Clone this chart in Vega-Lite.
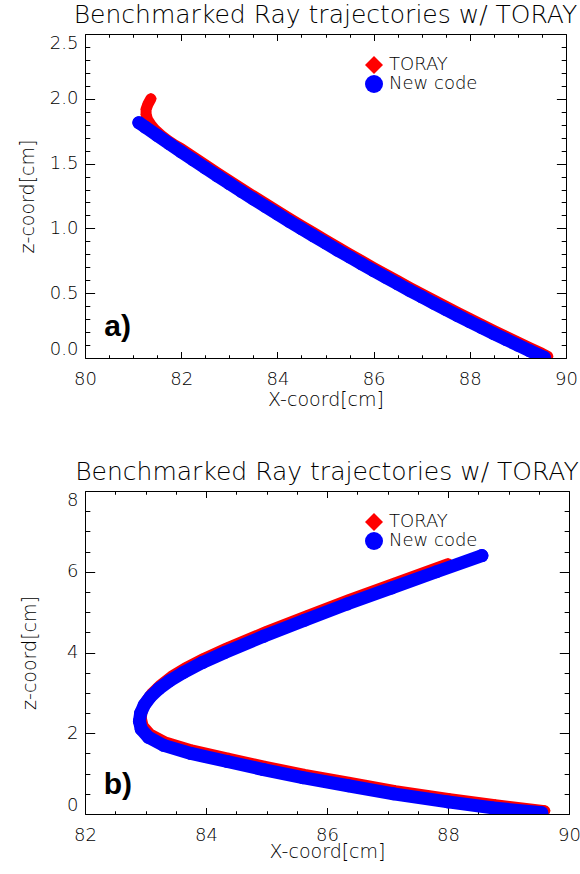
{
  "$schema": "https://vega.github.io/schema/vega-lite/v6.json",
  "background": "white",
  "padding": {"left": 18, "top": 2, "right": 0, "bottom": 0},
  "spacing": 50,
  "config": {
    "view": {"stroke": null},
    "font": "DejaVu Sans",
    "axis": {
      "labelFont": "DejaVu Sans", "labelFontWeight": 200, "labelFontSize": 18, "labelColor": "black",
      "titleFont": "DejaVu Sans", "titleFontWeight": 200, "titleFontSize": 19, "titleColor": "black",
      "domainColor": "black", "domainWidth": 1, "ticks": false, "grid": false,
      "tickColor": "black", "tickWidth": 1, "tickOpacity": 1, "labelOverlap": false
    },
    "title": {"font": "DejaVu Sans", "fontWeight": 200, "fontSize": 25, "color": "black", "anchor": "middle", "frame": "group", "baseline": "alphabetic", "offset": 6},
    "legend": {
      "orient": "none", "legendX": 280, "legendY": 22, "padding": 0, "title": null,
      "labelFont": "DejaVu Sans", "labelFontWeight": 200, "labelFontSize": 18, "labelOffset": 6,
      "rowPadding": 1, "symbolSize": 324, "symbolStrokeWidth": 0
    }
  },
  "resolve": {"scale": {"color": "independent", "shape": "independent"}},
  "vconcat": [
    {
      "width": 481, "height": 324,
      "title": {"text": "Benchmarked Ray trajectories w/ TORAY"},
      "data": {"values": [
        {"s":"TORAY","x":81.37,"z":2.0},{"s":"TORAY","x":81.31,"z":1.96},{"s":"TORAY","x":81.27,"z":1.92},{"s":"TORAY","x":81.27,"z":1.88},{"s":"TORAY","x":81.3,"z":1.84},{"s":"TORAY","x":81.37,"z":1.8},{"s":"TORAY","x":81.46,"z":1.76},{"s":"TORAY","x":81.58,"z":1.72},{"s":"TORAY","x":81.72,"z":1.68},{"s":"TORAY","x":81.86,"z":1.645},
        {"s":"TORAY","x":82.0,"z":1.616},{"s":"TORAY","x":82.25,"z":1.554},{"s":"TORAY","x":82.5,"z":1.492},{"s":"TORAY","x":82.75,"z":1.431},{"s":"TORAY","x":83.0,"z":1.371},{"s":"TORAY","x":83.25,"z":1.311},{"s":"TORAY","x":83.5,"z":1.252},{"s":"TORAY","x":83.75,"z":1.194},{"s":"TORAY","x":84.0,"z":1.137},{"s":"TORAY","x":84.25,"z":1.079},
        {"s":"TORAY","x":84.5,"z":1.023},{"s":"TORAY","x":84.75,"z":0.968},{"s":"TORAY","x":85.0,"z":0.913},{"s":"TORAY","x":85.25,"z":0.858},{"s":"TORAY","x":85.5,"z":0.805},{"s":"TORAY","x":85.75,"z":0.752},{"s":"TORAY","x":86.0,"z":0.699},{"s":"TORAY","x":86.25,"z":0.648},{"s":"TORAY","x":86.5,"z":0.597},{"s":"TORAY","x":86.75,"z":0.546},
        {"s":"TORAY","x":87.0,"z":0.497},{"s":"TORAY","x":87.25,"z":0.448},{"s":"TORAY","x":87.5,"z":0.4},{"s":"TORAY","x":87.75,"z":0.352},{"s":"TORAY","x":88.0,"z":0.305},{"s":"TORAY","x":88.25,"z":0.259},{"s":"TORAY","x":88.5,"z":0.213},{"s":"TORAY","x":88.75,"z":0.168},{"s":"TORAY","x":89.0,"z":0.124},{"s":"TORAY","x":89.25,"z":0.08},{"s":"TORAY","x":89.5,"z":0.036},{"s":"TORAY","x":89.62,"z":0.012},
        {"s":"New code","x":81.12,"z":1.816},{"s":"New code","x":81.25,"z":1.782},{"s":"New code","x":81.5,"z":1.718},{"s":"New code","x":81.75,"z":1.654},{"s":"New code","x":82.0,"z":1.591},{"s":"New code","x":82.25,"z":1.529},{"s":"New code","x":82.5,"z":1.467},{"s":"New code","x":82.75,"z":1.406},{"s":"New code","x":83.0,"z":1.346},{"s":"New code","x":83.25,"z":1.286},
        {"s":"New code","x":83.5,"z":1.227},{"s":"New code","x":83.75,"z":1.169},{"s":"New code","x":84.0,"z":1.112},{"s":"New code","x":84.25,"z":1.054},{"s":"New code","x":84.5,"z":0.998},{"s":"New code","x":84.75,"z":0.943},{"s":"New code","x":85.0,"z":0.888},{"s":"New code","x":85.25,"z":0.833},{"s":"New code","x":85.5,"z":0.78},{"s":"New code","x":85.75,"z":0.727},
        {"s":"New code","x":86.0,"z":0.674},{"s":"New code","x":86.25,"z":0.623},{"s":"New code","x":86.5,"z":0.572},{"s":"New code","x":86.75,"z":0.521},{"s":"New code","x":87.0,"z":0.472},{"s":"New code","x":87.25,"z":0.423},{"s":"New code","x":87.5,"z":0.375},{"s":"New code","x":87.75,"z":0.327},{"s":"New code","x":88.0,"z":0.28},{"s":"New code","x":88.25,"z":0.234},
        {"s":"New code","x":88.5,"z":0.188},{"s":"New code","x":88.75,"z":0.143},{"s":"New code","x":89.0,"z":0.099},{"s":"New code","x":89.25,"z":0.055},{"s":"New code","x":89.55,"z":0.004}
      ]},
      "layer": [
        {
          "transform": [{"filter": "datum.s === 'TORAY'"}],
          "mark": {"type": "line", "color": "#ff0000", "strokeWidth": 11, "strokeCap": "round", "strokeJoin": "round", "clip": true},
          "encoding": {
            "x": {"field": "x", "type": "quantitative", "scale": {"domain": [80, 90], "nice": false, "zero": false},
              "axis": {"orient": "bottom", "values": [80, 82, 84, 86, 88, 90], "format": "d", "title": "X-coord[cm]", "labelPadding": 12, "labelFlush": false,
                "titleY": 47, "titleBaseline": "alphabetic"}},
            "y": {"field": "z", "type": "quantitative", "scale": {"domain": [0, 2.5], "nice": false, "zero": false},
              "axis": {"orient": "left", "values": [0, 0.5, 1, 1.5, 2, 2.5], "format": ".1f", "title": "z-coord[cm]", "labelPadding": 7, "labelFlush": true,
                "titleX": -52, "titleBaseline": "alphabetic"}},
            "order": {"value": null}
          }
        },
        {
          "transform": [{"filter": "datum.s === 'TORAY'"}],
          "mark": {"type": "point", "filled": true, "size": 130, "opacity": 1, "clip": true},
          "encoding": {
            "x": {"field": "x", "type": "quantitative",
              "axis": {"orient": "bottom", "values": [80, 82, 84, 86, 88, 90], "labels": false, "domain": false, "title": null, "ticks": true, "tickSize": -6.5}},
            "y": {"field": "z", "type": "quantitative",
              "axis": {"orient": "left", "values": [0, 0.5, 1, 1.5, 2, 2.5], "labels": false, "domain": false, "title": null, "ticks": true, "tickSize": -9.6}},
            "color": {"field": "s", "type": "nominal", "scale": {"domain": ["TORAY", "New code"], "range": ["#ff0000", "#0000ff"]},
              "legend": {"encode": {"labels": {"update": {"fill": {"signal": "datum.value === 'TORAY' ? '#ff0000' : '#0000ff'"}}}, "symbols": {"update": {"size": {"signal": "datum.value === 'TORAY' ? 324 : 225"}}}}}},
            "shape": {"field": "s", "type": "nominal", "scale": {"domain": ["TORAY", "New code"], "range": ["diamond", "circle"]}}
          }
        },
        {
          "transform": [{"filter": "datum.s === 'New code'"}],
          "mark": {"type": "line", "color": "#0000ff", "strokeWidth": 13, "strokeCap": "round", "strokeJoin": "round", "clip": true},
          "encoding": {
            "x": {"field": "x", "type": "quantitative",
              "axis": {"orient": "top", "values": [80, 82, 84, 86, 88, 90], "labels": false, "title": null, "ticks": true, "tickSize": -6.5}},
            "y": {"field": "z", "type": "quantitative",
              "axis": {"orient": "right", "values": [0, 0.5, 1, 1.5, 2, 2.5], "labels": false, "title": null, "ticks": true, "tickSize": -9.6}},
            "order": {"value": null}
          }
        },
        {
          "transform": [{"filter": "datum.s === 'New code'"}],
          "mark": {"type": "point", "filled": true, "size": 169, "opacity": 1, "clip": true},
          "encoding": {
            "x": {"field": "x", "type": "quantitative",
              "axis": {"orient": "bottom", "values": [80.5, 81, 81.5, 82.5, 83, 83.5, 84.5, 85, 85.5, 86.5, 87, 87.5, 88.5, 89, 89.5], "labels": false, "domain": false, "title": null, "ticks": true, "tickSize": -3.25}},
            "y": {"field": "z", "type": "quantitative",
              "axis": {"orient": "left", "values": [0.1, 0.2, 0.3, 0.4, 0.6, 0.7, 0.8, 0.9, 1.1, 1.2, 1.3, 1.4, 1.6, 1.7, 1.8, 1.9, 2.1, 2.2, 2.3, 2.4], "labels": false, "domain": false, "title": null, "ticks": true, "tickSize": -4.8}},
            "color": {"field": "s", "type": "nominal"},
            "shape": {"field": "s", "type": "nominal"}
          }
        },
        {
          "data": {"values": [{"x": 80.4, "z": 0.17, "t": "a)"}]},
          "mark": {"type": "text", "font": "Liberation Sans", "fontWeight": "bold", "fontSize": 30, "align": "left", "baseline": "alphabetic", "color": "black"},
          "encoding": {
            "x": {"field": "x", "type": "quantitative",
              "axis": {"orient": "top", "values": [80.5, 81, 81.5, 82.5, 83, 83.5, 84.5, 85, 85.5, 86.5, 87, 87.5, 88.5, 89, 89.5], "labels": false, "domain": false, "title": null, "ticks": true, "tickSize": -3.25}},
            "y": {"field": "z", "type": "quantitative",
              "axis": {"orient": "right", "values": [0.1, 0.2, 0.3, 0.4, 0.6, 0.7, 0.8, 0.9, 1.1, 1.2, 1.3, 1.4, 1.6, 1.7, 1.8, 1.9, 2.1, 2.2, 2.3, 2.4], "labels": false, "domain": false, "title": null, "ticks": true, "tickSize": -4.8}},
            "text": {"field": "t"}
          }
        }
      ],
      "resolve": {"axis": {"x": "independent", "y": "independent"}}
    },
    {
      "width": 484, "height": 323,
      "title": {"text": "Benchmarked Ray trajectories w/ TORAY"},
      "data": {"values": [
        {"s":"TORAY","x":89.6,"z":0.08},{"s":"TORAY","x":88.78,"z":0.23},{"s":"TORAY","x":88.03,"z":0.38},{"s":"TORAY","x":87.13,"z":0.58},{"s":"TORAY","x":86.38,"z":0.78},{"s":"TORAY","x":85.63,"z":0.98},{"s":"TORAY","x":84.98,"z":1.18},{"s":"TORAY","x":84.38,"z":1.38},{"s":"TORAY","x":83.78,"z":1.58},{"s":"TORAY","x":83.33,"z":1.78},
        {"s":"TORAY","x":83.08,"z":1.98},{"s":"TORAY","x":82.96,"z":2.18},{"s":"TORAY","x":82.93,"z":2.38},{"s":"TORAY","x":82.95,"z":2.6},{"s":"TORAY","x":83.01,"z":2.8},{"s":"TORAY","x":83.11,"z":3.0},{"s":"TORAY","x":83.25,"z":3.2},{"s":"TORAY","x":83.43,"z":3.41},{"s":"TORAY","x":83.65,"z":3.61},{"s":"TORAY","x":83.97,"z":3.86},
        {"s":"TORAY","x":84.34,"z":4.11},{"s":"TORAY","x":84.98,"z":4.51},{"s":"TORAY","x":85.66,"z":4.91},{"s":"TORAY","x":86.36,"z":5.31},{"s":"TORAY","x":87.1,"z":5.71},{"s":"TORAY","x":88.0,"z":6.2},
        {"s":"New code","x":89.55,"z":0.03},{"s":"New code","x":88.75,"z":0.15},{"s":"New code","x":88.0,"z":0.3},{"s":"New code","x":87.1,"z":0.5},{"s":"New code","x":86.35,"z":0.7},{"s":"New code","x":85.6,"z":0.9},{"s":"New code","x":84.95,"z":1.1},{"s":"New code","x":84.35,"z":1.3},{"s":"New code","x":83.75,"z":1.5},{"s":"New code","x":83.3,"z":1.7},
        {"s":"New code","x":83.05,"z":1.9},{"s":"New code","x":82.93,"z":2.1},{"s":"New code","x":82.9,"z":2.3},{"s":"New code","x":82.92,"z":2.5},{"s":"New code","x":82.98,"z":2.7},{"s":"New code","x":83.08,"z":2.9},{"s":"New code","x":83.22,"z":3.1},{"s":"New code","x":83.4,"z":3.3},{"s":"New code","x":83.62,"z":3.5},{"s":"New code","x":83.94,"z":3.75},
        {"s":"New code","x":84.31,"z":4.0},{"s":"New code","x":84.95,"z":4.4},{"s":"New code","x":85.63,"z":4.8},{"s":"New code","x":86.33,"z":5.2},{"s":"New code","x":87.07,"z":5.6},{"s":"New code","x":87.81,"z":6.0},{"s":"New code","x":88.56,"z":6.4}
      ]},
      "layer": [
        {
          "transform": [{"filter": "datum.s === 'TORAY'"}],
          "mark": {"type": "line", "color": "#ff0000", "strokeWidth": 11, "strokeCap": "round", "strokeJoin": "round", "clip": true},
          "encoding": {
            "x": {"field": "x", "type": "quantitative", "scale": {"domain": [82, 90], "nice": false, "zero": false},
              "axis": {"orient": "bottom", "values": [82, 84, 86, 88, 90], "format": "d", "title": "X-coord[cm]", "labelPadding": 12, "labelFlush": false,
                "titleY": 43, "titleBaseline": "alphabetic"}},
            "y": {"field": "z", "type": "quantitative", "scale": {"domain": [0, 8], "nice": false, "zero": false},
              "axis": {"orient": "left", "values": [0, 2, 4, 6, 8], "format": "d", "title": "z-coord[cm]", "labelPadding": 7, "labelFlush": true,
                "titleX": -50, "titleBaseline": "alphabetic"}},
            "order": {"value": null}
          }
        },
        {
          "transform": [{"filter": "datum.s === 'TORAY'"}],
          "mark": {"type": "point", "filled": true, "size": 130, "opacity": 1, "clip": true},
          "encoding": {
            "x": {"field": "x", "type": "quantitative",
              "axis": {"orient": "bottom", "values": [82, 84, 86, 88, 90], "labels": false, "domain": false, "title": null, "ticks": true, "tickSize": -6.5}},
            "y": {"field": "z", "type": "quantitative",
              "axis": {"orient": "left", "values": [0, 2, 4, 6, 8], "labels": false, "domain": false, "title": null, "ticks": true, "tickSize": -9.7}},
            "color": {"field": "s", "type": "nominal", "scale": {"domain": ["TORAY", "New code"], "range": ["#ff0000", "#0000ff"]},
              "legend": {"encode": {"labels": {"update": {"fill": {"signal": "datum.value === 'TORAY' ? '#ff0000' : '#0000ff'"}}}, "symbols": {"update": {"size": {"signal": "datum.value === 'TORAY' ? 324 : 225"}}}}}},
            "shape": {"field": "s", "type": "nominal", "scale": {"domain": ["TORAY", "New code"], "range": ["diamond", "circle"]}}
          }
        },
        {
          "transform": [{"filter": "datum.s === 'New code'"}],
          "mark": {"type": "line", "color": "#0000ff", "strokeWidth": 13, "strokeCap": "round", "strokeJoin": "round", "clip": true},
          "encoding": {
            "x": {"field": "x", "type": "quantitative",
              "axis": {"orient": "top", "values": [82, 84, 86, 88, 90], "labels": false, "title": null, "ticks": true, "tickSize": -6.5}},
            "y": {"field": "z", "type": "quantitative",
              "axis": {"orient": "right", "values": [0, 2, 4, 6, 8], "labels": false, "title": null, "ticks": true, "tickSize": -9.7}},
            "order": {"value": null}
          }
        },
        {
          "transform": [{"filter": "datum.s === 'New code'"}],
          "mark": {"type": "point", "filled": true, "size": 169, "opacity": 1, "clip": true},
          "encoding": {
            "x": {"field": "x", "type": "quantitative",
              "axis": {"orient": "bottom", "values": [82.5, 83, 83.5, 84.5, 85, 85.5, 86.5, 87, 87.5, 88.5, 89, 89.5], "labels": false, "domain": false, "title": null, "ticks": true, "tickSize": -3.25}},
            "y": {"field": "z", "type": "quantitative",
              "axis": {"orient": "left", "values": [0.5, 1, 1.5, 2.5, 3, 3.5, 4.5, 5, 5.5, 6.5, 7, 7.5], "labels": false, "domain": false, "title": null, "ticks": true, "tickSize": -4.85}},
            "color": {"field": "s", "type": "nominal"},
            "shape": {"field": "s", "type": "nominal"}
          }
        },
        {
          "data": {"values": [{"x": 82.31, "z": 0.5, "t": "b)"}]},
          "mark": {"type": "text", "font": "Liberation Sans", "fontWeight": "bold", "fontSize": 30, "align": "left", "baseline": "alphabetic", "color": "black"},
          "encoding": {
            "x": {"field": "x", "type": "quantitative",
              "axis": {"orient": "top", "values": [82.5, 83, 83.5, 84.5, 85, 85.5, 86.5, 87, 87.5, 88.5, 89, 89.5], "labels": false, "domain": false, "title": null, "ticks": true, "tickSize": -3.25}},
            "y": {"field": "z", "type": "quantitative",
              "axis": {"orient": "right", "values": [0.5, 1, 1.5, 2.5, 3, 3.5, 4.5, 5, 5.5, 6.5, 7, 7.5], "labels": false, "domain": false, "title": null, "ticks": true, "tickSize": -4.85}},
            "text": {"field": "t"}
          }
        }
      ],
      "resolve": {"axis": {"x": "independent", "y": "independent"}}
    }
  ]
}
